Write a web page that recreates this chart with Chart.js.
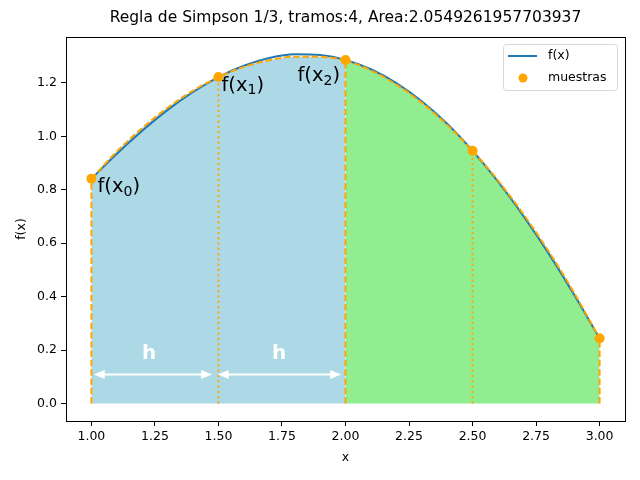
<!DOCTYPE html>
<html>
<head>
<meta charset="utf-8">
<script src="https://cdn.jsdelivr.net/npm/chart.js@4/dist/chart.umd.min.js"></script>
<style>
  html, body { margin: 0; padding: 0; background: #fff; }
  #wrap { width: 640px; height: 480px; }
</style>
</head>
<body>
<div id="wrap"><canvas id="c"></canvas></div>
<script>
// function samples
const xs = [1.0, 1.1, 1.2, 1.3, 1.4, 1.5, 1.6, 1.7, 1.8, 1.9, 2.0, 2.1, 2.2, 2.3, 2.4, 2.5, 2.6, 2.7, 2.8, 2.9, 3.0]
const fx = [0.841, 0.935, 1.021, 1.099, 1.166, 1.222, 1.264, 1.293, 1.307, 1.304, 1.286, 1.251, 1.199, 1.131, 1.047, 0.946, 0.831, 0.702, 0.561, 0.407, 0.244]

// simpson nodes (muestras)
const xNodes = [1.0, 1.5, 2.0, 2.5, 3.0]
const yNodes = [0.841, 1.222, 1.286, 0.946, 0.244]

// parabola segments (dashed)
const xPar1 = [1.0, 1.1, 1.2, 1.3, 1.4, 1.5, 1.6, 1.7, 1.8, 1.9, 2.0]
const yPar1 = [0.841, 0.943, 1.031, 1.107, 1.171, 1.222, 1.260, 1.285, 1.298, 1.298, 1.286]
const xPar2 = [2.0, 2.1, 2.2, 2.3, 2.4, 2.5, 2.6, 2.7, 2.8, 2.9, 3.0]
const yPar2 = [1.286, 1.247, 1.194, 1.126, 1.043, 0.946, 0.835, 0.709, 0.569, 0.414, 0.244]

const xTicks = [1.0, 1.25, 1.5, 1.75, 2.0, 2.25, 2.5, 2.75, 3.0]
const yTicks = [0.0, 0.2, 0.4, 0.6, 0.8, 1.0, 1.2]

const title = 'Regla de Simpson 1/3, tramos:4, Area:2.0549261957703937'

const ORANGE = '#ffa500'
const BLUE = '#1f77b4'
const FONT = '"DejaVu Sans", sans-serif'

const pts = (a, b) => a.map((x, i) => ({ x, y: b[i] }))

const verticals = xNodes.map((x, i) => ({
  data: [{ x, y: 0 }, { x, y: yNodes[i] }],
  borderColor: ORANGE,
  borderWidth: 2,
  borderDash: i % 2 === 0 ? [6.5, 2.8] : [2, 3.3],
  pointRadius: 0,
  fill: false,
  order: 3
}))

const datasets = [
  {
    label: 'f(x)',
    data: pts(xs, fx),
    borderColor: BLUE,
    borderWidth: 2,
    pointRadius: 0,
    cubicInterpolationMode: 'monotone',
    fill: false,
    order: 5
  },
  {
    label: 'p1',
    data: pts(xPar1, yPar1),
    borderColor: ORANGE,
    borderWidth: 2,
    borderDash: [6.5, 2.8],
    backgroundColor: '#add8e6',
    pointRadius: 0,
    cubicInterpolationMode: 'monotone',
    fill: 'origin',
    order: 4
  },
  {
    label: 'p2',
    data: pts(xPar2, yPar2),
    borderColor: ORANGE,
    borderWidth: 2,
    borderDash: [6.5, 2.8],
    backgroundColor: '#90ee90',
    pointRadius: 0,
    cubicInterpolationMode: 'monotone',
    fill: 'origin',
    order: 4
  },
  ...verticals,
  {
    label: 'muestras',
    data: pts(xNodes, yNodes),
    showLine: false,
    pointRadius: 5,
    pointBackgroundColor: ORANGE,
    pointBorderWidth: 0,
    order: 1
  }
]

// text annotations in data coords
const labels = [
  { sub: '0', x: 1.024, y: 0.81 },
  { sub: '1', x: 1.512, y: 1.189 },
  { sub: '2', x: 1.811, y: 1.226 }
]
const arrows = [[1.009, 1.475], [1.497, 1.983]]
const arrowY = 0.109
const hLabels = [1.227, 1.739]
const hY = 0.186

function arrowHead(ctx, x, y, dir) {
  ctx.beginPath()
  ctx.moveTo(x, y)
  ctx.lineTo(x - dir * 11, y - 4.5)
  ctx.lineTo(x - dir * 11, y + 4.5)
  ctx.closePath()
  ctx.fill()
}

const decor = {
  id: 'decor',
  afterDatasetsDraw(chart) {
    const { ctx, chartArea: a, scales: { x, y } } = chart
    ctx.save()

    // arrows + h
    ctx.strokeStyle = '#fff'
    ctx.fillStyle = '#fff'
    ctx.lineWidth = 2
    const ay = y.getPixelForValue(arrowY)
    arrows.forEach(([x0, x1]) => {
      const p0 = x.getPixelForValue(x0)
      const p1 = x.getPixelForValue(x1)
      ctx.beginPath()
      ctx.moveTo(p0 + 6, ay)
      ctx.lineTo(p1 - 6, ay)
      ctx.stroke()
      arrowHead(ctx, p0, ay, -1)
      arrowHead(ctx, p1, ay, 1)
    })
    ctx.font = 'bold 20px ' + FONT
    ctx.textAlign = 'center'
    ctx.textBaseline = 'middle'
    hLabels.forEach(h => ctx.fillText('h', x.getPixelForValue(h), y.getPixelForValue(hY)))

    // f(x_i) labels
    ctx.fillStyle = '#000'
    ctx.textAlign = 'left'
    labels.forEach(l => {
      let px = x.getPixelForValue(l.x)
      const py = y.getPixelForValue(l.y)
      ctx.font = '19.5px ' + FONT
      ctx.fillText('f(x', px, py)
      px += ctx.measureText('f(x').width
      ctx.font = '14px ' + FONT
      ctx.fillText(l.sub, px, py + 5)
      px += ctx.measureText(l.sub).width
      ctx.font = '19.5px ' + FONT
      ctx.fillText(')', px, py)
    })

    // frame
    ctx.strokeStyle = '#000'
    ctx.lineWidth = 1
    ctx.strokeRect(Math.round(a.left) + 0.5, Math.round(a.top) + 0.5,
      Math.round(a.right - a.left), Math.round(a.bottom - a.top))

    // legend
    ctx.fillStyle = 'rgba(255,255,255,0.8)'
    ctx.strokeStyle = '#d9d9d9'
    ctx.beginPath()
    ctx.roundRect(503.5, 44.5, 114, 46, 3)
    ctx.fill()
    ctx.stroke()
    ctx.strokeStyle = BLUE
    ctx.lineWidth = 2
    ctx.beginPath()
    ctx.moveTo(508, 56)
    ctx.lineTo(537, 56)
    ctx.stroke()
    ctx.fillStyle = ORANGE
    ctx.beginPath()
    ctx.arc(523, 78, 4.5, 0, Math.PI * 2)
    ctx.fill()
    ctx.fillStyle = '#000'
    ctx.font = '12.5px ' + FONT
    ctx.textBaseline = 'middle'
    ctx.fillText('f(x)', 548, 56)
    ctx.fillText('muestras', 548, 78)

    // title + axis titles
    ctx.font = '15.5px ' + FONT
    ctx.textAlign = 'center'
    ctx.fillText(title, (a.left + a.right) / 2, 18)
    ctx.font = '12.5px ' + FONT
    ctx.fillText('x', (a.left + a.right) / 2, 458)
    ctx.translate(22, (a.top + a.bottom) / 2)
    ctx.rotate(-Math.PI / 2)
    ctx.fillText('f(x)', 0, 0)
    ctx.restore()
  }
}

new Chart(document.getElementById('c'), {
  type: 'line',
  data: { datasets },
  plugins: [decor],
  options: {
    responsive: true,
    maintainAspectRatio: false,
    animation: false,
    events: [],
    layout: { padding: { top: 37, right: 15, left: 0, bottom: 0 } },
    plugins: {
      legend: { display: false },
      title: { display: false },
      tooltip: { enabled: false },
      filler: { drawTime: 'beforeDatasetsDraw' }
    },
    scales: {
      x: {
        type: 'linear',
        min: 0.9,
        max: 3.1,
        afterFit: s => { s.height = 59 },
        afterBuildTicks: s => { s.ticks = xTicks.map(value => ({ value })) },
        grid: { drawOnChartArea: false, color: '#000', tickLength: 5 },
        border: { color: '#000' },
        ticks: {
          color: '#000',
          padding: 3,
          maxRotation: 0,
          font: { family: FONT, size: 12.5 },
          callback: v => v.toFixed(2)
        }
      },
      y: {
        min: -0.0653,
        max: 1.3718,
        afterFit: s => { s.width = 66 },
        afterBuildTicks: s => { s.ticks = yTicks.map(value => ({ value })) },
        grid: { drawOnChartArea: false, color: '#000', tickLength: 5 },
        border: { color: '#000' },
        ticks: {
          color: '#000',
          padding: 4,
          font: { family: FONT, size: 12.5 },
          callback: v => v.toFixed(1)
        }
      }
    }
  }
})
</script>
</body>
</html>
